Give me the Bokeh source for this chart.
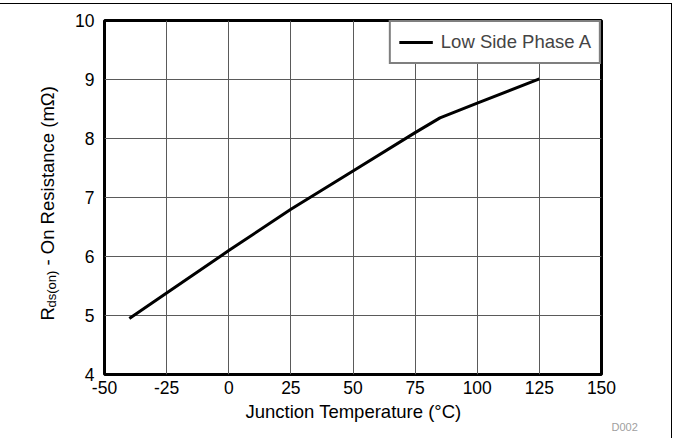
from bokeh.plotting import figure
from bokeh.models import Range1d, FixedTicker, Legend, LegendItem
from bokeh.layouts import row, column
from bokeh.core.properties import value
from bokeh.embed import file_html
from bokeh.resources import INLINE
import math

# data
temperature = [-40, -25, 0, 25, 50, 75, 85, 100, 125]
rds_on = [4.95, 5.38, 6.10, 6.80, 7.45, 8.10, 8.35, 8.60, 9.01]
series_name = "Low Side Phase A"
x_ticks = [-50, -25, 0, 25, 50, 75, 100, 125, 150]
y_ticks = [4, 5, 6, 7, 8, 9, 10]
x_title = "Junction Temperature (°C)"
y_title_parts = ["R", "ds(on)", "- On Resistance (mΩ)"]
figure_id = "D002"

FONT = "Liberation Sans"

# ---------------- main plot ----------------
p = figure(width=601, height=396, output_backend="svg", toolbar_location=None,
           x_range=Range1d(-50, 150), y_range=Range1d(4, 10),
           min_border_left=34, min_border_right=70, min_border_top=16, min_border_bottom=26)
p.outline_line_color = "black"
p.outline_line_width = 3
for ax in (p.xaxis[0], p.yaxis[0]):
    ax.axis_line_color = None
    ax.major_tick_line_color = None
    ax.minor_tick_line_color = None
    ax.major_label_text_font = FONT
    ax.major_label_text_font_size = "17.5px"
    ax.major_label_text_color = "black"
    ax.major_tick_out = 0
    ax.major_tick_in = 0
p.xaxis.ticker = FixedTicker(ticks=x_ticks)
p.yaxis.ticker = FixedTicker(ticks=y_ticks)
p.xaxis.major_label_overrides = {t: str(t) for t in x_ticks}
p.xaxis.major_label_standoff = 6
p.yaxis.major_label_standoff = 10
p.grid.grid_line_color = "#5a5a5a"
p.grid.grid_line_width = 1

r = p.line(temperature, rds_on, line_color="black", line_width=3)

legend = Legend(items=[LegendItem(label=series_name, renderers=[r])],
                location="top_right", margin=0, padding=8,
                border_line_color="black", border_line_width=2.5,
                background_fill_color="white", background_fill_alpha=1,
                label_text_font=FONT, label_text_font_size="18.5px",
                glyph_width=34, label_standoff=8, label_height=24, glyph_height=24)
p.add_layout(legend)

# ---------------- y-axis title panel (frame aligned with main frame) ----------------
yfig = figure(width=70, height=396, output_backend="svg", toolbar_location=None,
              x_range=Range1d(0, 70), y_range=Range1d(0, 354),
              x_axis_type=None, y_axis_type=None, min_border=0)
yfig.outline_line_color = None
yfig.grid.visible = False
yfig.text(x=[46.5], y=[54], text=[y_title_parts[0]], angle=math.pi / 2,
          text_font=value(FONT), text_font_size=value("18.5px"),
          text_align="left", text_baseline="middle", text_color="black")
yfig.text(x=[50.5], y=[67], text=[y_title_parts[1]], angle=math.pi / 2,
          text_font=value(FONT), text_font_size=value("13px"),
          text_align="left", text_baseline="middle", text_color="black")
yfig.text(x=[46.5], y=[109], text=[y_title_parts[2]], angle=math.pi / 2,
          text_font=value(FONT), text_font_size=value("18.5px"),
          text_align="left", text_baseline="middle", text_color="black")

# ---------------- bottom title panel ----------------
bfig = figure(width=671, height=38, output_backend="svg", toolbar_location=None,
              x_range=Range1d(0, 671), y_range=Range1d(0, 38),
              x_axis_type=None, y_axis_type=None, min_border=0)
bfig.outline_line_color = None
bfig.grid.visible = False
bfig.text(x=[353], y=[27], text=[x_title],
          text_font=value(FONT), text_font_size=value("18.5px"),
          text_align="center", text_baseline="middle", text_color="black")
bfig.text(x=[611], y=[11.5], text=[figure_id],
          text_font=value(FONT), text_font_size=value("11px"),
          text_align="left", text_baseline="middle", text_color="#a0a0a0")

layout = column(row(yfig, p, spacing=0), bfig, spacing=0)
layout.styles = {"border-top": "1px solid black", "border-right": "1px solid black",
                 "margin-top": "3px"}

open("out.html", "w").write(file_html(layout, INLINE))
